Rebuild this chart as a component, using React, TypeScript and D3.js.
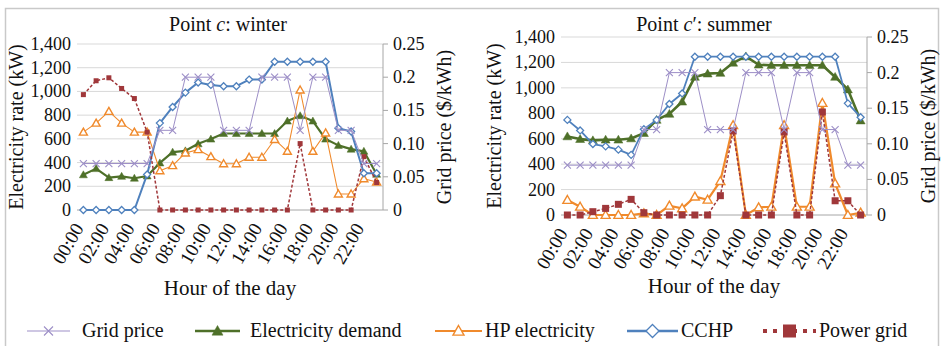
import React from "react";
import * as d3 from "d3";

// hour categories and axis ticks
const hourLabels = [
  "00:00", "01:00", "02:00", "03:00", "04:00", "05:00", "06:00", "07:00",
  "08:00", "09:00", "10:00", "11:00", "12:00", "13:00", "14:00", "15:00",
  "16:00", "17:00", "18:00", "19:00", "20:00", "21:00", "22:00", "23:00",
];
const kwTicks = [0, 200, 400, 600, 800, 1000, 1200, 1400];
const priceTicks = [0, 0.05, 0.1, 0.15, 0.2, 0.25];
const priceTickLabels = ["0", "0.05", "0.10", "0.15", "0.2", "0.25"];

// point c: winter
const winterGridPrice = [0.07, 0.07, 0.07, 0.07, 0.07, 0.07, 0.12, 0.12, 0.2, 0.2, 0.2, 0.12, 0.12, 0.12, 0.2, 0.2, 0.2, 0.12, 0.2, 0.2, 0.12, 0.12, 0.07, 0.07];
const winterDemand = [297, 349, 273, 284, 268, 287, 397, 488, 499, 558, 598, 645, 645, 645, 645, 645, 750, 795, 750, 598, 545, 513, 495, 301];
const winterHP = [657, 733, 832, 733, 657, 657, 331, 374, 481, 509, 450, 390, 390, 445, 445, 595, 495, 1012, 495, 650, 135, 135, 264, 236];
const winterCCHP = [0, 0, 0, 0, 0, 300, 733, 869, 990, 1075, 1055, 1044, 1044, 1100, 1100, 1250, 1250, 1250, 1250, 1250, 690, 662, 310, 310];
const winterPowerGrid = [973, 1090, 1115, 1025, 940, 657, 0, 0, 0, 0, 0, 0, 0, 0, 0, 0, 0, 560, 0, 0, 0, 0, 450, 232];

// point c': summer
const summerGridPrice = [0.07, 0.07, 0.07, 0.07, 0.07, 0.07, 0.12, 0.12, 0.2, 0.2, 0.2, 0.12, 0.12, 0.12, 0.2, 0.2, 0.2, 0.12, 0.2, 0.2, 0.12, 0.12, 0.07, 0.07];
const summerDemand = [618, 597, 587, 592, 592, 602, 644, 748, 795, 891, 1086, 1112, 1117, 1197, 1247, 1182, 1178, 1178, 1178, 1178, 1178, 1086, 987, 743];
const summerHP = [118, 65, 0, 0, 0, 0, 13, 0, 73, 52, 144, 120, 267, 706, 0, 60, 65, 706, 65, 65, 881, 248, 0, 18];
const summerCCHP = [748, 665, 558, 540, 514, 473, 675, 748, 873, 956, 1245, 1245, 1245, 1245, 1245, 1245, 1245, 1245, 1245, 1245, 1245, 1245, 878, 769];
const summerPowerGrid = [0, 0, 26, 52, 84, 123, 18, 0, 0, 0, 0, 0, 152, 661, 0, 0, 0, 653, 0, 0, 810, 112, 112, 0];

const C_PRICE = "#9d8fc7";
const C_DEMAND = "#4e7029";
const C_HP = "#f08a2c";
const C_CCHP = "#4f81bd";
const C_GRID = "#a0373a";
const TXT = { fontFamily: '"Liberation Serif"', fill: "#111" };

function Marker({ kind, x, y, s, color }) {
  const h = s / 2;
  if (kind === "x")
    return <path d={`M${x - h},${y - h}L${x + h},${y + h}M${x - h},${y + h}L${x + h},${y - h}`} stroke={color} strokeWidth={1.1} fill="none" />;
  if (kind === "tri")
    return <path d={`M${x},${y - h}L${x + h},${y + h * 0.75}L${x - h},${y + h * 0.75}Z`} fill={color} stroke={color} strokeWidth={0.5} />;
  if (kind === "triOpen")
    return <path d={`M${x},${y - h}L${x + h},${y + h * 0.75}L${x - h},${y + h * 0.75}Z`} fill="#fff" stroke={color} strokeWidth={1.4} />;
  if (kind === "diamond")
    return <path d={`M${x},${y - h}L${x + h},${y}L${x},${y + h}L${x - h},${y}Z`} fill="#fff" stroke={color} strokeWidth={1.3} />;
  return <rect x={x - h} y={y - h} width={s} height={s} fill={color} />;
}

function Panel({ p }) {
  const x = d3.scaleBand<number>().domain(d3.range(24)).range([p.left, p.right]);
  const cx = (i: number) => (x(i) as number) + x.bandwidth() / 2;
  const y = d3.scaleLinear().domain([0, 1400]).range([p.bottom, p.top]);
  const y2 = d3.scaleLinear().domain([0, 0.25]).range([p.bottom, p.top]);
  const fmt = d3.format(",");

  const series = [
    { values: p.demand, sc: y, color: C_DEMAND, w: p.demandW, marker: "tri", size: p.triS },
    { values: p.hp, sc: y, color: C_HP, w: p.hpW, marker: "triOpen", size: p.triS },
    { values: p.cchp, sc: y, color: C_CCHP, w: p.cchpW, marker: "diamond", size: p.diaS },
    { values: p.grid, sc: y, color: C_GRID, w: 1.5, dash: "3 2", marker: "square", size: p.sqS },
    { values: p.price, sc: y2, color: C_PRICE, w: 1, marker: "x", size: 7 },
  ];

  const midY = (p.top + p.bottom) / 2;

  return (
    <g>
      {/* gridlines */}
      {kwTicks.map((t) => (
        <line key={t} x1={p.left} x2={p.right} y1={y(t)} y2={y(t)} stroke={t === 0 ? "#a6a6a6" : "#d9d9d9"} strokeWidth={1} />
      ))}
      {/* left tick labels */}
      {kwTicks.map((t) => (
        <text key={t} x={p.left - 6} y={y(t) + 6} textAnchor="end" fontSize={18} style={TXT}>{fmt(t)}</text>
      ))}
      {/* right axis */}
      <line x1={p.right} x2={p.right} y1={p.top} y2={p.bottom} stroke="#a6a6a6" />
      {priceTicks.map((t, i) => (
        <g key={t}>
          <line x1={p.right} x2={p.right + 5} y1={y2(t)} y2={y2(t)} stroke="#a6a6a6" />
          <text x={p.right + 10} y={y2(t) + 6} fontSize={18} style={TXT}>{priceTickLabels[i]}</text>
        </g>
      ))}
      {/* x tick labels */}
      {hourLabels.map((lab, i) =>
        i % 2 === 0 ? (
          <text key={lab} transform={`translate(${cx(i) + 1},${p.bottom + 18}) rotate(-60)`} textAnchor="end" fontSize={19} style={TXT}>{lab}</text>
        ) : null
      )}
      {/* series */}
      {series.map((s, k) => (
        <g key={k}>
          <path
            d={d3.line<number>().x((d, i) => cx(i)).y((d) => s.sc(d))(s.values) as string}
            fill="none"
            stroke={s.color}
            strokeWidth={s.w}
            strokeDasharray={s.dash}
            strokeLinejoin="round"
          />
          {s.values.map((v, i) => (
            <Marker key={i} kind={s.marker} x={cx(i)} y={s.sc(v)} s={s.size} color={s.color} />
          ))}
        </g>
      ))}
      {/* titles */}
      <text x={p.titleX} y={31} textAnchor="middle" fontSize={20} style={TXT}>
        Point <tspan fontStyle="italic">c</tspan>{p.prime}: {p.season}
      </text>
      <text x={(p.left + p.right) / 2} y={p.xTitleY} textAnchor="middle" fontSize={21} style={TXT}>Hour of the day</text>
      <text transform={`translate(${p.leftTitleX},${midY}) rotate(-90)`} textAnchor="middle" fontSize={20} style={TXT}>Electricity rate (kW)</text>
      <text transform={`translate(${p.rightTitleX},${midY}) rotate(-90)`} textAnchor="middle" fontSize={20} style={TXT}>Grid price ($/kWh)</text>
    </g>
  );
}

const winterPanel = {
  left: 77, right: 383, top: 44, bottom: 210, titleX: 228, prime: "", season: "winter",
  xTitleY: 295, leftTitleX: 23, rightTitleX: 451,
  price: winterGridPrice, demand: winterDemand, hp: winterHP, cchp: winterCCHP, grid: winterPowerGrid,
  demandW: 2.2, hpW: 1.1, cchpW: 2, triS: 8, diaS: 7, sqS: 5,
};
const summerPanel = {
  left: 561, right: 867, top: 37, bottom: 215, titleX: 704, prime: "\u2032", season: "summer",
  xTitleY: 293, leftTitleX: 501, rightTitleX: 935,
  price: summerGridPrice, demand: summerDemand, hp: summerHP, cchp: summerCCHP, grid: summerPowerGrid,
  demandW: 2.6, hpW: 2.2, cchpW: 1.8, triS: 9, diaS: 7, sqS: 7,
};

function Legend() {
  const ly = 331;
  const items = [
    { x1: 27, x2: 70, tx: 82, color: C_PRICE, w: 1, marker: "x", s: 9, label: "Grid price" },
    { x1: 195, x2: 240, tx: 250, color: C_DEMAND, w: 2.4, marker: "tri", s: 11, label: "Electricity demand" },
    { x1: 435, x2: 482, tx: 485, color: C_HP, w: 2, marker: "triOpen", s: 11, label: "HP electricity" },
    { x1: 627, x2: 678, tx: 681, color: C_CCHP, w: 2.4, marker: "diamond", s: 13, label: "CCHP" },
    { x1: 763, x2: 816, tx: 819, color: C_GRID, w: 4, dash: "4 6", marker: "square", s: 13, label: "Power grid" },
  ];
  return (
    <g>
      {items.map((it) => (
        <g key={it.label}>
          <line x1={it.x1} x2={it.x2} y1={ly} y2={ly} stroke={it.color} strokeWidth={it.w} strokeDasharray={it.dash} />
          <Marker kind={it.marker} x={(it.x1 + it.x2) / 2} y={ly} s={it.s} color={it.color} />
          <text x={it.tx} y={ly + 6} fontSize={20} style={TXT}>{it.label}</text>
        </g>
      ))}
    </g>
  );
}

export default function App() {
  return (
    <svg width={945} height={346} style={{ position: "absolute", left: 0, top: 0, background: "#fff" }}>
      <rect x={5.5} y={8.5} width={933} height={345} fill="none" stroke="#c9c9c9" strokeWidth={1.5} />
      <Panel p={winterPanel} />
      <Panel p={summerPanel} />
      <Legend />
    </svg>
  );
}
